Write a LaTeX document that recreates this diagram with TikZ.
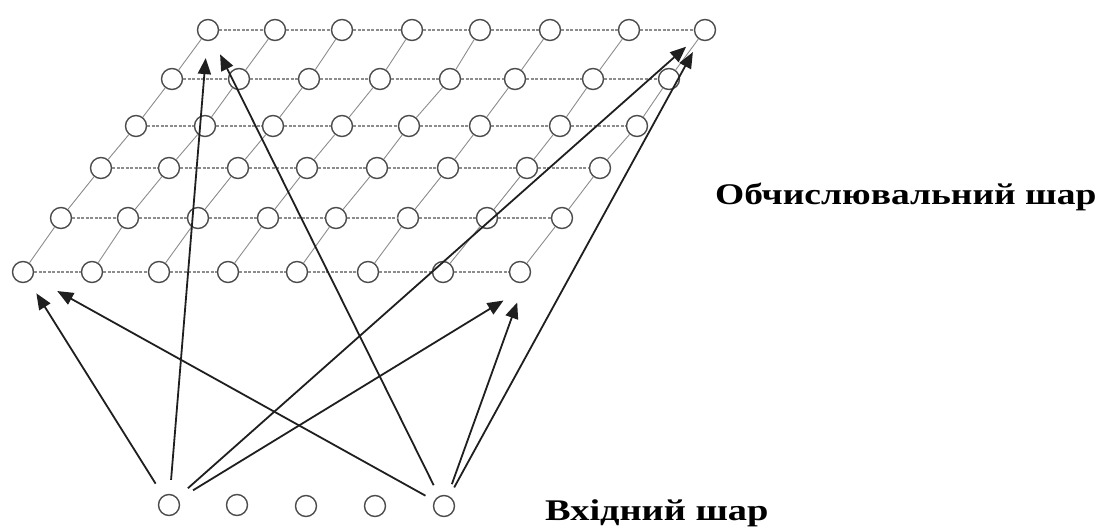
\documentclass[tikz,border=0pt]{standalone}
\usepackage{fontspec}
\setmainfont{Liberation Serif}
\usetikzlibrary{arrows.meta}
\begin{document}
\begin{tikzpicture}[x=1pt,y=-1pt,
  neuron/.style={circle,draw=black!70,line width=1.4pt,fill=white,minimum size=21pt,inner sep=0pt},
  hline/.style={draw=black!45,line width=1.1pt,dash pattern=on 3pt off 1.5pt},
  dline/.style={draw=black!45,line width=0.9pt},
  link/.style={draw=black!88,line width=1.8pt,-{Triangle[length=16pt,width=13pt]}},
  lbl/.style={font=\bfseries\fontsize{30}{34}\selectfont,anchor=base west,inner sep=0pt}]
\useasboundingbox (0,0) rectangle (1100,529);
% computational layer
\foreach \x [count=\c] in {208,275,342,412,480,550,629,705} {\node[neuron] (g1-\c) at (\x,30) {};}
\foreach \x [count=\c] in {172,239,309,380,450,515,593,669} {\node[neuron] (g2-\c) at (\x,79) {};}
\foreach \x [count=\c] in {136,205,273,342,409,480,560,637} {\node[neuron] (g3-\c) at (\x,126) {};}
\foreach \x [count=\c] in {101,169,238,307,377,448,527,600} {\node[neuron] (g4-\c) at (\x,168) {};}
\foreach \x [count=\c] in {61,128,198,268,336,408,487,562} {\node[neuron] (g5-\c) at (\x,218) {};}
\foreach \x [count=\c] in {23,92,159,228,297,368,443,520} {\node[neuron] (g6-\c) at (\x,272) {};}
\foreach \r in {1,...,6} {
  \foreach \c [evaluate=\c as \cn using int(\c+1)] in {1,...,7} {
    \draw[hline] (g\r-\c) -- (g\r-\cn);
  }
}
\foreach \r [evaluate=\r as \rn using int(\r+1)] in {1,...,5} {
  \foreach \c in {1,...,8} {
    \draw[dline] (g\r-\c) -- (g\rn-\c);
  }
}
% input layer
\node[neuron] (in1) at (169,505) {};
\node[neuron] (in2) at (237,505) {};
\node[neuron] (in3) at (306,506) {};
\node[neuron] (in4) at (375,506) {};
\node[neuron] (in5) at (444,506) {};
% aim points of the arrows that end below the last node of the front row
\coordinate (a68) at (524,288);
\coordinate (b68) at (526,278);
% connections
\draw[link, shorten <=14pt, shorten >=14pt] (in1) -- (g6-1);
\draw[link, shorten <=14pt, shorten >=17pt] (in1) -- (g1-1);
\draw[link, shorten <=14pt, shorten >=14pt] (in1) -- (g1-8);
\draw[link, shorten <=17pt, shorten >=24pt] (in1) -- (a68);
\draw[link, shorten <=10pt, shorten >=28pt] (in5) -- (g6-1);
\draw[link, shorten <=12pt, shorten >=16pt] (in5) -- (g1-1);
\draw[link, shorten <=12pt, shorten >=26pt] (in5) -- (b68);
\draw[link, shorten <=10pt, shorten >=14pt] (in5) -- (g1-8);
% labels
\node[lbl] (top) at (715,205) {\scalebox{1.25}[1]{Обчислювальний шар}};
\node[lbl] (bot) at (545,520) {\scalebox{1.28}[1]{Вхідний шар}};
\end{tikzpicture}
\end{document}
